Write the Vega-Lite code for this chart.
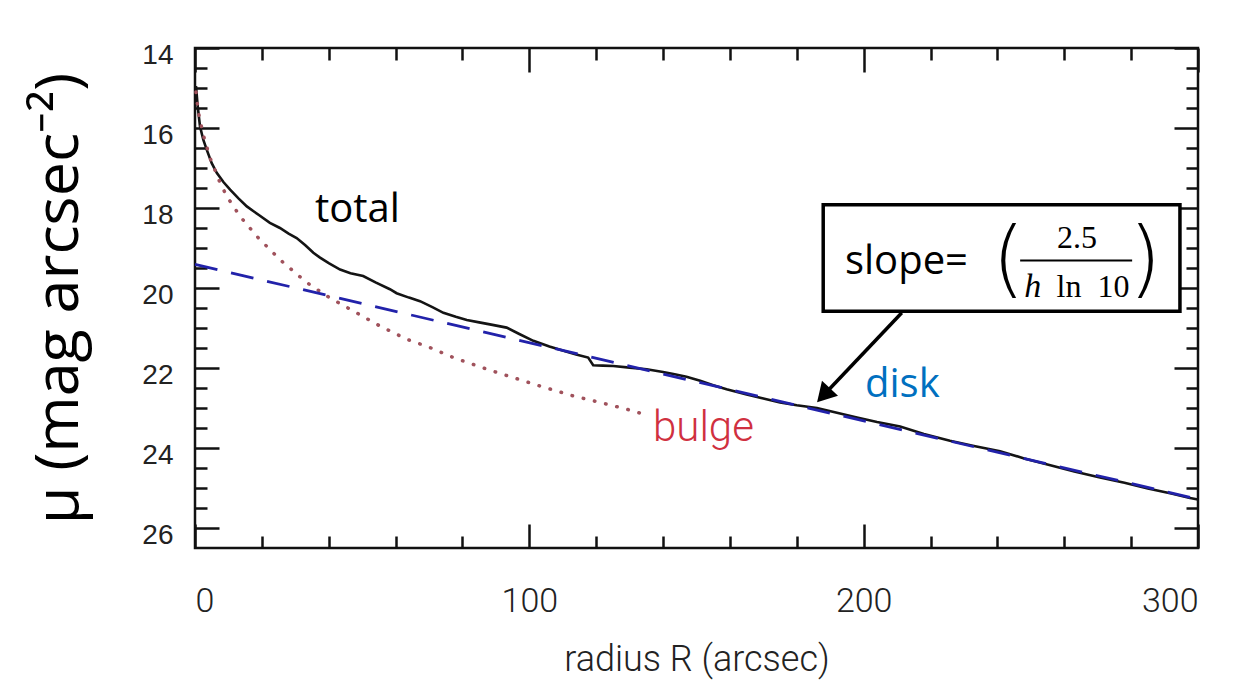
{
  "$schema": "https://vega.github.io/schema/vega-lite/v6.json",
  "width": 1003,
  "height": 500,
  "autosize": {"type": "none"},
  "padding": {"left": 195, "top": 48, "right": 43, "bottom": 134},
  "background": "white",
  "config": {
    "view": {"stroke": "#111111", "strokeWidth": 2.5},
    "axis": {"grid": false, "domain": false, "tickColor": "#111111", "tickWidth": 2.5}
  },
  "datasets": {
    "total": [
      {"R": 0.3, "mu": 14.95}, {"R": 0.8, "mu": 15.45}, {"R": 1.5, "mu": 15.96}, {"R": 2.5, "mu": 16.3},
      {"R": 3.5, "mu": 16.54}, {"R": 5, "mu": 16.88}, {"R": 6.5, "mu": 17.12}, {"R": 8.5, "mu": 17.35},
      {"R": 10.5, "mu": 17.54}, {"R": 13, "mu": 17.76}, {"R": 15.5, "mu": 17.96}, {"R": 19, "mu": 18.17},
      {"R": 22.4, "mu": 18.37}, {"R": 25.4, "mu": 18.5}, {"R": 28, "mu": 18.64}, {"R": 30.4, "mu": 18.75},
      {"R": 33, "mu": 18.93}, {"R": 35.4, "mu": 19.12}, {"R": 37.4, "mu": 19.24}, {"R": 40, "mu": 19.38},
      {"R": 43.4, "mu": 19.54}, {"R": 46.5, "mu": 19.63}, {"R": 50.3, "mu": 19.7}, {"R": 54, "mu": 19.86},
      {"R": 58.3, "mu": 20.03}, {"R": 60.3, "mu": 20.13}, {"R": 64, "mu": 20.24}, {"R": 67.3, "mu": 20.33},
      {"R": 71, "mu": 20.48}, {"R": 74.3, "mu": 20.62}, {"R": 78, "mu": 20.72}, {"R": 81.3, "mu": 20.8},
      {"R": 85, "mu": 20.86}, {"R": 88.2, "mu": 20.91}, {"R": 93.2, "mu": 20.99}, {"R": 97, "mu": 21.15},
      {"R": 101.2, "mu": 21.32}, {"R": 106, "mu": 21.46}, {"R": 110.2, "mu": 21.57}, {"R": 114, "mu": 21.66},
      {"R": 117.6, "mu": 21.74}, {"R": 119.1, "mu": 21.93}, {"R": 122, "mu": 21.94}, {"R": 125.1, "mu": 21.95},
      {"R": 130, "mu": 21.99}, {"R": 135.1, "mu": 22.03}, {"R": 140, "mu": 22.1}, {"R": 143.1, "mu": 22.15},
      {"R": 147, "mu": 22.22}, {"R": 151.1, "mu": 22.32}, {"R": 155, "mu": 22.43}, {"R": 159, "mu": 22.53},
      {"R": 165, "mu": 22.66}, {"R": 170, "mu": 22.76}, {"R": 175, "mu": 22.86}, {"R": 180, "mu": 22.93},
      {"R": 186, "mu": 23.0}, {"R": 192, "mu": 23.12}, {"R": 198, "mu": 23.24}, {"R": 204, "mu": 23.35},
      {"R": 210.9, "mu": 23.46}, {"R": 218, "mu": 23.65}, {"R": 225.8, "mu": 23.82}, {"R": 233, "mu": 23.95},
      {"R": 240.8, "mu": 24.08}, {"R": 248, "mu": 24.26}, {"R": 256.7, "mu": 24.45}, {"R": 263, "mu": 24.59},
      {"R": 270.7, "mu": 24.74}, {"R": 278, "mu": 24.87}, {"R": 285, "mu": 25.01}, {"R": 292, "mu": 25.14},
      {"R": 297.6, "mu": 25.25}, {"R": 300, "mu": 25.29}
    ],
    "disk": [{"R": 0, "mu": 19.41}, {"R": 300, "mu": 25.28}],
    "bulge": [
      {"R": 0.3, "mu": 15.1}, {"R": 1, "mu": 15.6}, {"R": 2.4, "mu": 16.15}, {"R": 4.5, "mu": 16.75},
      {"R": 7.5, "mu": 17.37}, {"R": 9.6, "mu": 17.72}, {"R": 13.5, "mu": 18.21}, {"R": 18.5, "mu": 18.71},
      {"R": 25.4, "mu": 19.29}, {"R": 31.4, "mu": 19.72}, {"R": 34.4, "mu": 19.92}, {"R": 40.4, "mu": 20.25},
      {"R": 46.4, "mu": 20.53}, {"R": 55.3, "mu": 20.95}, {"R": 63.3, "mu": 21.28}, {"R": 70.3, "mu": 21.49},
      {"R": 77.3, "mu": 21.74}, {"R": 87.3, "mu": 22.03}, {"R": 95.2, "mu": 22.24}, {"R": 103.2, "mu": 22.45},
      {"R": 113.2, "mu": 22.7}, {"R": 121.1, "mu": 22.86}, {"R": 129.1, "mu": 23.03}, {"R": 134.1, "mu": 23.15}
    ],
    "box": [{"R": 187.9, "R2": 294.6, "mu": 17.92, "mu2": 20.58}],
    "arrow": [{"R": 211.4, "mu": 20.62, "R2": 188.0, "mu2": 22.68}],
    "arrowhead": [{"R": 188.0, "mu": 22.68}],
    "fracline": [{"R": 246.8, "R2": 280.3, "mu": 19.31}],
    "lbl_total": [{"R": 35.9, "mu": 18.36, "t": "total"}],
    "lbl_disk": [{"R": 200.4, "mu": 22.73, "t": "disk"}],
    "lbl_bulge": [{"R": 137.0, "mu": 23.82, "t": "bulge"}],
    "lbl_slope": [{"R": 194.4, "mu": 19.66, "t": "slope="}],
    "lbl_paren": [{"R": 243.3, "mu": 19.34, "t": "("}, {"R": 284.2, "mu": 19.34, "t": ")"}],
    "lbl_num": [{"R": 263.8, "mu": 18.99, "t": "2.5"}, {"R": 268.6, "mu": 20.23, "t": "ln\u00a0\u00a010"}],
    "lbl_h": [{"R": 250.6, "mu": 20.23, "t": "h"}]
  },
  "encoding": {
    "x": {"field": "R", "type": "quantitative", "scale": {"domain": [0, 300], "nice": false, "zero": false}, "axis": null},
    "y": {"field": "mu", "type": "quantitative", "scale": {"domain": [14, 26.5], "nice": false, "zero": false, "reverse": true}, "axis": null}
  },
  "resolve": {"axis": {"x": "independent", "y": "independent"}},
  "layer": [
    {
      "data": {"name": "total"},
      "mark": {"type": "line", "color": "#141414", "strokeWidth": 2.6},
      "encoding": {
        "x": {"field": "R", "type": "quantitative", "scale": {"domain": [0, 300], "nice": false, "zero": false},
          "axis": {"orient": "bottom", "values": [0,20,40,60,80,100,120,140,160,180,200,220,240,260,280,300],
            "format": ".0f",
            "labelExpr": "datum.value % 100 === 0 ? datum.label : ''",
            "tickSize": {"condition": {"test": "datum.value % 100 === 0", "value": -24}, "value": -12},
            "labelPadding": 60, "labelFont": "Roboto", "labelFontWeight": 300, "labelFontSize": 34, "labelColor": "#222222",
            "title": "radius R (arcsec)", "titleFont": "Roboto", "titleFontWeight": 300, "titleFontSize": 36, "titleColor": "#222222", "titlePadding": 24}},
        "y": {"field": "mu", "type": "quantitative", "scale": {"domain": [14, 26.5], "nice": false, "zero": false, "reverse": true},
          "axis": {"orient": "left", "values": [14,14.5,15,15.5,16,16.5,17,17.5,18,18.5,19,19.5,20,20.5,21,21.5,22,22.5,23,23.5,24,24.5,25,25.5,26],
            "format": ".0f",
            "labelExpr": "datum.value % 2 === 0 ? datum.label : ''",
            "tickSize": {"condition": {"test": "datum.value % 2 === 0", "value": -24}, "value": -12},
            "labelPadding": 46, "labelOffset": 7, "labelFont": "Liberation Sans", "labelFontSize": 28, "labelColor": "#222222",
            "title": "μ (mag arcsec⁻²)", "titleFont": "Open Sans", "titleFontWeight": "normal", "titleFontSize": 61, "titleColor": "#000000", "titlePadding": 51}}
      }
    },
    {
      "data": {"name": "bulge"},
      "mark": {"type": "line", "color": "#a0525c", "strokeWidth": 3.5, "strokeDash": [0.5, 11], "strokeCap": "round"},
      "encoding": {
        "x": {"field": "R", "type": "quantitative", "scale": {"domain": [0, 300], "nice": false, "zero": false},
          "axis": {"orient": "top", "values": [0,20,40,60,80,100,120,140,160,180,200,220,240,260,280,300],
            "labels": false, "title": null,
            "tickSize": {"condition": {"test": "datum.value % 100 === 0", "value": -24}, "value": -12}}},
        "y": {"field": "mu", "type": "quantitative", "scale": {"domain": [14, 26.5], "nice": false, "zero": false, "reverse": true},
          "axis": {"orient": "right", "values": [14,14.5,15,15.5,16,16.5,17,17.5,18,18.5,19,19.5,20,20.5,21,21.5,22,22.5,23,23.5,24,24.5,25,25.5,26],
            "labels": false, "title": null,
            "tickSize": {"condition": {"test": "datum.value % 2 === 0", "value": -24}, "value": -12}}}
      }
    },
    {
      "data": {"name": "disk"},
      "mark": {"type": "line", "color": "#2222aa", "strokeWidth": 2.8, "strokeDash": [23, 14]}
    },
    {
      "data": {"name": "box"},
      "mark": {"type": "rect", "fill": "white", "stroke": "#000000", "strokeWidth": 3.5},
      "encoding": {"x2": {"field": "R2"}, "y2": {"field": "mu2"}}
    },
    {
      "data": {"name": "arrow"},
      "mark": {"type": "rule", "color": "#000000", "strokeWidth": 3.5},
      "encoding": {"x2": {"field": "R2"}, "y2": {"field": "mu2"}}
    },
    {
      "data": {"name": "arrowhead"},
      "mark": {"type": "point", "shape": "triangle-up", "filled": true, "color": "#000000", "size": 480, "angle": 223, "opacity": 1}
    },
    {
      "data": {"name": "fracline"},
      "mark": {"type": "rule", "color": "#000000", "strokeWidth": 2},
      "encoding": {"x2": {"field": "R2"}}
    },
    {
      "data": {"name": "lbl_total"},
      "mark": {"type": "text", "font": "Open Sans", "fontSize": 40, "color": "#000000", "align": "left", "baseline": "alphabetic"},
      "encoding": {"text": {"field": "t"}}
    },
    {
      "data": {"name": "lbl_slope"},
      "mark": {"type": "text", "font": "Open Sans", "fontSize": 40, "color": "#000000", "align": "left", "baseline": "alphabetic"},
      "encoding": {"text": {"field": "t"}}
    },
    {
      "data": {"name": "lbl_disk"},
      "mark": {"type": "text", "font": "Open Sans", "fontSize": 40, "color": "#0070c0", "align": "left", "baseline": "alphabetic"},
      "encoding": {"text": {"field": "t"}}
    },
    {
      "data": {"name": "lbl_bulge"},
      "mark": {"type": "text", "font": "Roboto", "fontWeight": 300, "fontSize": 42, "color": "#d0303f", "align": "left", "baseline": "alphabetic"},
      "encoding": {"text": {"field": "t"}}
    },
    {
      "data": {"name": "lbl_paren"},
      "mark": {"type": "text", "font": "DejaVu Sans", "fontWeight": 200, "fontSize": 84, "color": "#000000", "align": "center", "baseline": "middle"},
      "encoding": {"text": {"field": "t"}}
    },
    {
      "data": {"name": "lbl_num"},
      "mark": {"type": "text", "font": "Liberation Serif", "fontSize": 32, "color": "#000000", "align": "center", "baseline": "alphabetic"},
      "encoding": {"text": {"field": "t"}}
    },
    {
      "data": {"name": "lbl_h"},
      "mark": {"type": "text", "font": "Liberation Serif", "fontStyle": "italic", "fontSize": 34, "color": "#000000", "align": "center", "baseline": "alphabetic"},
      "encoding": {"text": {"field": "t"}}
    }
  ]
}
